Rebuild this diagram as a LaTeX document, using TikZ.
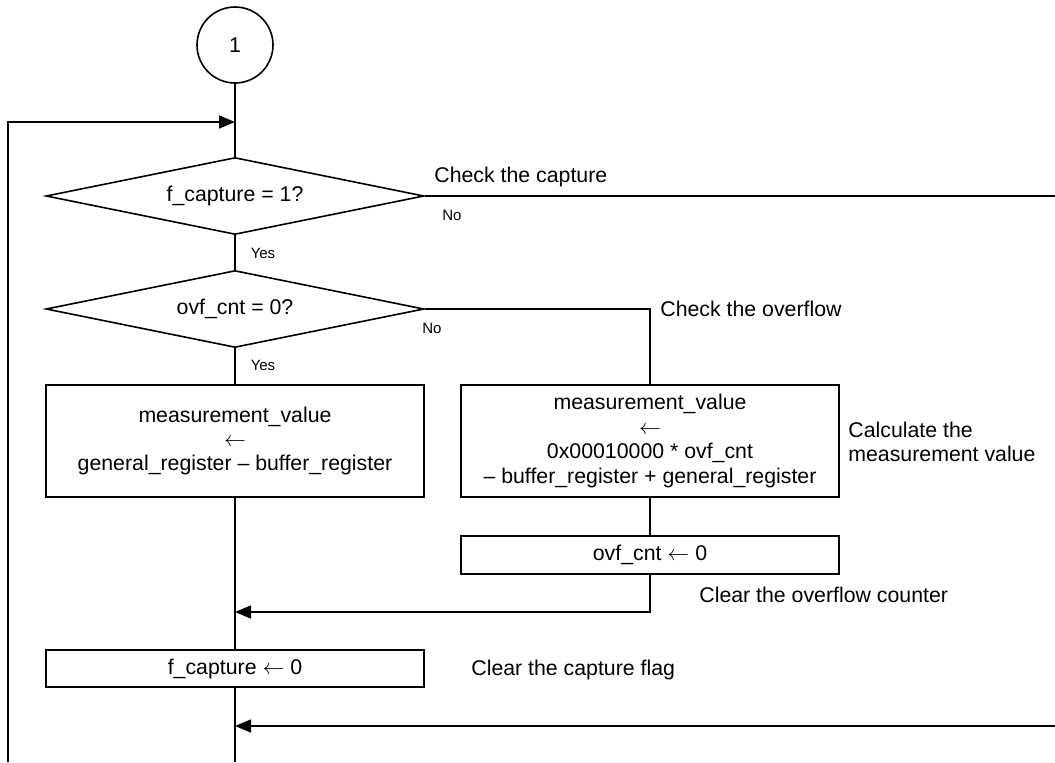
\documentclass[tikz,border=0pt]{standalone}
\usepackage{fontspec}
\setmainfont{Liberation Sans}
\usepackage{tikz}
\usetikzlibrary{arrows.meta,shapes.geometric}
\tikzset{
  fcnode/.style = {align=center, inner sep=0pt, text centered,
    font=\fontsize{10.65}{12.2}\selectfont},
  fc_conn/.style = {fcnode, circle, draw=black, line width=0.8pt,
    minimum size=38pt},% connecteur
  fc_dec/.style = {fcnode, diamond, aspect=4.9, draw=black, line width=0.8pt,
    minimum width=189pt, minimum height=38.5pt},% decision
  fc_proc/.style = {fcnode, rectangle, draw=black, line width=0.8pt,
    minimum width=189pt},% traitement
  fc_note/.style = {align=left, inner sep=0pt, anchor=west,
    font=\fontsize{10.65}{12.2}\selectfont},% commentaire
  fc_tag/.style = {inner sep=0pt, font=\fontsize{7.5}{9}\selectfont},% Yes / No
  fc_line/.style = {draw, line width=0.8pt},
  fc_arrow/.style = {fc_line, -{Triangle[length=8pt,width=6.5pt]}}
}

\begin{document}
\begin{tikzpicture}[x=0.5pt, y=-0.5pt]
\useasboundingbox (0,0) rectangle (1055,762);
% noeuds
\node [fc_conn] (conn) at (235,45) {1};
\node [fc_dec] (capt) at (235,196) {f\_capture = 1?};
\node [fc_dec] (ovf) at (235,309) {ovf\_cnt = 0?};
\node [fc_proc, minimum height=56pt] (calcA) at (235,441)
  {measurement\_value\\$\leftarrow$\\general\_register \textendash{} buffer\_register};
\node [fc_proc, minimum height=56pt] (calcB) at (650,441)
  {measurement\_value\\$\leftarrow$\\0x00010000 * ovf\_cnt\\\textendash{} buffer\_register + general\_register};
\node [fc_proc, minimum height=19pt] (clrovf) at (650,555) {ovf\_cnt $\leftarrow$ 0};
\node [fc_proc, minimum height=18.5pt] (clrflag) at (235,668.5) {f\_capture $\leftarrow$ 0};
% commentaires
\node [fc_note] (nCapt) at (434,177) {Check the capture};
\node [fc_note] (nOvf) at (660,309) {Check the overflow};
\node [fc_note] (nCalc) at (848,442) {Calculate the\\measurement value};
\node [fc_note] (nClrOvf) at (699,595) {Clear the overflow counter};
\node [fc_note] (nClrFlag) at (471,670) {Clear the capture flag};
\node [fc_tag] (no1) at (452,215) {No};
\node [fc_tag] (yes1) at (263,253) {Yes};
\node [fc_tag] (no2) at (432,328) {No};
\node [fc_tag] (yes2) at (263,365) {Yes};
% points de jonction
\coordinate (loopIn) at (235,122);
\coordinate (loopL) at (8,122);
\coordinate (loopB) at (8,762);
\coordinate (joinA) at (235,612);
\coordinate (joinAr) at (650,612);
\coordinate (joinB) at (235,726);
\coordinate (edgeB) at (1055,726);
\coordinate (edgeT) at (1055,196);
\coordinate (ovfR) at (650,309);
\coordinate (bottom) at (235,762);
% liaisons
\path [fc_line] (conn) -- (capt.north);
\path [fc_line] (capt.south) -- (ovf.north);
\path [fc_line] (ovf.south) -- (calcA.north);
\path [fc_line] (calcA.south) -- (clrflag.north);
\path [fc_line] (clrflag.south) -- (bottom);
\path [fc_line] (capt.east) -- (edgeT);
\path [fc_line] (ovf.east) -- (ovfR) -- (calcB.north);
\path [fc_line] (calcB.south) -- (clrovf.north);
\path [fc_arrow] (clrovf.south) -- (joinAr) -- (joinA);
\path [fc_arrow] (edgeB) -- (joinB);
\path [fc_arrow] (loopB) -- (loopL) -- (loopIn);
\end{tikzpicture}
\end{document}
